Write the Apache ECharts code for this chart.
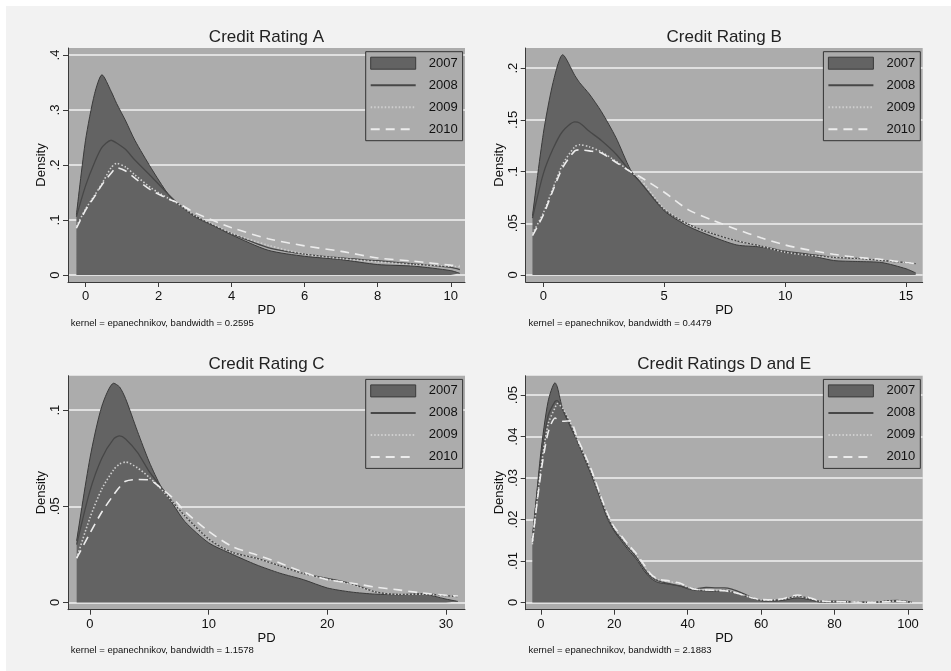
<!DOCTYPE html>
<html>
<head>
<meta charset="utf-8">
<script src="https://cdn.jsdelivr.net/npm/echarts@6/dist/echarts.min.js"></script>
<style>
html, body { margin: 0; padding: 0; background: #ffffff; }
#bg { position: absolute; left: 6px; top: 6px; right: 0; bottom: 0; width: 945px; height: 665px; background: #f2f2f2; }
#chart { position: absolute; left: 0; top: 0; width: 951px; height: 671px; }
</style>
</head>
<body>
<div id="bg"></div>
<div id="chart"></div>
<script>
// years shown in every panel
const years = ['2007', '2008', '2009', '2010'];

// Credit Rating A
const pdA = [-0.25, 0, 0.25, 0.45, 0.7, 0.85, 1.1, 1.35, 1.8, 2.25, 2.5, 3, 3.5, 4, 5, 6, 7, 8, 9, 10, 10.25];
const a2007 = [0.109, 0.245, 0.33, 0.364, 0.334, 0.312, 0.28, 0.245, 0.194, 0.148, 0.13, 0.108, 0.09, 0.073, 0.045, 0.034, 0.028, 0.019, 0.016, 0.008, 0.003];
const a2008 = [0.106, 0.162, 0.205, 0.232, 0.245, 0.24, 0.228, 0.209, 0.179, 0.148, 0.132, 0.106, 0.09, 0.075, 0.05, 0.038, 0.031, 0.026, 0.02, 0.014, 0.01];
const a2009 = [0.088, 0.12, 0.145, 0.166, 0.195, 0.203, 0.196, 0.182, 0.158, 0.14, 0.131, 0.108, 0.092, 0.076, 0.054, 0.038, 0.03, 0.024, 0.019, 0.016, 0.015];
const a2010 = [0.085, 0.118, 0.143, 0.164, 0.185, 0.195, 0.189, 0.176, 0.154, 0.139, 0.132, 0.113, 0.099, 0.086, 0.066, 0.053, 0.043, 0.031, 0.025, 0.018, 0.017];

// Credit Rating B
const pdB = [-0.45, 0, 0.4, 0.8, 1.3, 1.5, 1.9, 2.4, 3, 3.6, 4, 5, 6, 7, 8, 9, 10, 11, 12, 13, 14, 15, 15.4];
const b2007 = [0.057, 0.137, 0.186, 0.213, 0.193, 0.186, 0.175, 0.158, 0.133, 0.102, 0.09, 0.062, 0.047, 0.037, 0.029, 0.027, 0.022, 0.019, 0.014, 0.013, 0.012, 0.006, 0.002];
const b2008 = [0.055, 0.098, 0.122, 0.139, 0.148, 0.147, 0.139, 0.13, 0.117, 0.1, 0.09, 0.063, 0.049, 0.04, 0.033, 0.028, 0.023, 0.02, 0.017, 0.016, 0.014, 0.012, 0.011];
const b2009 = [0.04, 0.06, 0.084, 0.107, 0.124, 0.126, 0.124, 0.119, 0.11, 0.1, 0.093, 0.064, 0.049, 0.04, 0.033, 0.028, 0.022, 0.019, 0.017, 0.016, 0.014, 0.012, 0.011];
const b2010 = [0.038, 0.058, 0.082, 0.104, 0.12, 0.121, 0.12, 0.118, 0.109, 0.1, 0.095, 0.08, 0.063, 0.053, 0.044, 0.036, 0.029, 0.024, 0.02, 0.017, 0.015, 0.012, 0.011];

// Credit Rating C
const pdC = [-1.12, 0, 1, 2, 2.5, 3, 4, 5, 6, 7, 8, 10, 12, 14, 16, 18, 20, 22, 24, 26, 28, 30, 31];
const c2007 = [0.032, 0.075, 0.102, 0.114, 0.112, 0.106, 0.089, 0.073, 0.06, 0.051, 0.042, 0.031, 0.025, 0.0196, 0.0152, 0.0118, 0.0075, 0.0054, 0.0043, 0.004, 0.0043, 0.0017, 0.0005];
const c2008 = [0.03, 0.058, 0.075, 0.085, 0.0866, 0.085, 0.078, 0.068, 0.06, 0.052, 0.045, 0.033, 0.026, 0.023, 0.019, 0.015, 0.0125, 0.0098, 0.0055, 0.0042, 0.0045, 0.0035, 0.003];
const c2009 = [0.023, 0.044, 0.059, 0.069, 0.072, 0.073, 0.07, 0.065, 0.059, 0.052, 0.045, 0.033, 0.026, 0.023, 0.019, 0.015, 0.012, 0.0095, 0.0055, 0.0042, 0.0043, 0.0035, 0.003];
const c2010 = [0.023, 0.036, 0.047, 0.056, 0.06, 0.063, 0.0639, 0.0637, 0.0594, 0.0542, 0.0473, 0.037, 0.029, 0.0248, 0.0205, 0.0157, 0.0118, 0.0101, 0.008, 0.0065, 0.0049, 0.0037, 0.0033];

// Credit Ratings D and E
const pdD = [-2.3, 0, 2, 3.9, 4.5, 6, 8, 10, 12, 14, 16, 18, 20, 22, 24, 26, 28, 30, 32, 35, 38, 40, 42, 45, 48, 50, 52, 55, 58, 60, 63, 66, 70, 73, 76, 80, 85, 90, 95, 97, 100, 101];
const d2007 = [0.0147, 0.036, 0.0485, 0.053, 0.052, 0.0465, 0.0425, 0.0387, 0.0345, 0.0302, 0.0255, 0.0205, 0.0172, 0.0148, 0.0125, 0.0105, 0.0078, 0.0058, 0.0048, 0.0044, 0.0039, 0.0033, 0.0029, 0.0028, 0.0027, 0.003, 0.0026, 0.0017, 0.0009, 0.0004, 0.0003, 0.0005, 0.0011, 0.0007, 0.0001, 0.0001, 0.0001, 0, 0.0003, 0.0003, 0.0001, 0];
const d2008 = [0.0155, 0.034, 0.045, 0.0485, 0.0487, 0.0465, 0.043, 0.039, 0.035, 0.0305, 0.026, 0.021, 0.0175, 0.0152, 0.013, 0.011, 0.0083, 0.0062, 0.0052, 0.0045, 0.004, 0.0035, 0.0033, 0.0036, 0.0035, 0.0035, 0.0032, 0.0022, 0.001, 0.0005, 0.0005, 0.0007, 0.0015, 0.001, 0.0003, 0.0003, 0.0002, 0, 0.0004, 0.0005, 0.0002, 0.0001];
const d2009 = [0.014, 0.032, 0.043, 0.047, 0.048, 0.0468, 0.0435, 0.0392, 0.0352, 0.031, 0.0262, 0.0215, 0.018, 0.0157, 0.0135, 0.0115, 0.009, 0.0066, 0.0055, 0.005, 0.0045, 0.0037, 0.0032, 0.003, 0.0029, 0.0029, 0.0026, 0.0018, 0.001, 0.0006, 0.0006, 0.0008, 0.0015, 0.001, 0.0003, 0.0002, 0.0001, 0, 0.0003, 0.0003, 0.0001, 0];
const d2010 = [0.0145, 0.031, 0.041, 0.0445, 0.0442, 0.0437, 0.0438, 0.0395, 0.0357, 0.0315, 0.0265, 0.0218, 0.0182, 0.016, 0.0138, 0.0118, 0.0093, 0.0068, 0.0056, 0.0052, 0.0046, 0.0038, 0.0032, 0.003, 0.0029, 0.0028, 0.0025, 0.0018, 0.001, 0.0007, 0.0006, 0.0009, 0.0018, 0.0012, 0.0004, 0.0002, 0.0001, 0, 0.0002, 0.0003, 0.0001, 0];

// tick values
const xTicksA = [0, 2, 4, 6, 8, 10];
const yTicksA = [0, 0.1, 0.2, 0.3, 0.4];
const xTicksB = [0, 5, 10, 15];
const yTicksB = [0, 0.05, 0.1, 0.15, 0.2];
const xTicksC = [0, 10, 20, 30];
const yTicksC = [0, 0.05, 0.1];
const xTicksD = [0, 20, 40, 60, 80, 100];
const yTicksD = [0, 0.01, 0.02, 0.03, 0.04, 0.05];

const titles = ['Credit Rating A', 'Credit Rating B', 'Credit Rating C', 'Credit Ratings D and E'];
const notes = [
    'kernel = epanechnikov, bandwidth = 0.2595',
    'kernel = epanechnikov, bandwidth = 0.4479',
    'kernel = epanechnikov, bandwidth = 1.1578',
    'kernel = epanechnikov, bandwidth = 2.1883'
];

const FONT = '"Liberation Sans", Arial, sans-serif';
const PLOT_BG = '#acacac';
const FILL = '#636363';
const AXIS = '#3a3a3a';

const panels = [
    { pd: pdA, ys: [a2007, a2008, a2009, a2010], xt: xTicksA, yt: yTicksA, xr: [-0.48, 10.39], yr: [-0.0127, 0.4127], left: 68, top: 48 },
    { pd: pdB, ys: [b2007, b2008, b2009, b2010], xt: xTicksB, yt: yTicksB, xr: [-0.73, 15.69], yr: [-0.0068, 0.2195], left: 525.7, top: 48 },
    { pd: pdC, ys: [c2007, c2008, c2009, c2010], xt: xTicksC, yt: yTicksC, xr: [-1.85, 31.6], yr: [-0.0038, 0.1179], left: 68, top: 375.7 },
    { pd: pdD, ys: [d2007, d2008, d2009, d2010], xt: xTicksD, yt: yTicksD, xr: [-4.1, 104], yr: [-0.00176, 0.0547], left: 525.7, top: 375.7 }
];
const PW = 397, PH = 234;

const lineStyles = [
    { color: AXIS, width: 1 },
    { color: '#474747', width: 1.3 },
    { color: '#cfcfcf', width: 1.6, type: [1.5, 2] },
    { color: '#ececec', width: 1.6, type: [9, 6] }
];

function yFmt(v) {
    return String(+v.toFixed(4)).replace(/^0\./, '.');
}

const grid = [], xAxis = [], yAxis = [], series = [], legend = [], graphic = [];

panels.forEach(function (p, i) {
    grid.push({ left: p.left, top: p.top, width: PW, height: PH, show: true, backgroundColor: PLOT_BG, borderWidth: 0 });
    xAxis.push({
        type: 'value', gridIndex: i, min: p.xr[0], max: p.xr[1],
        name: 'PD', nameLocation: 'middle', nameGap: 20,
        nameTextStyle: { fontFamily: FONT, fontSize: 13, color: '#111' },
        axisLine: { show: true, onZero: false, lineStyle: { color: AXIS, width: 1 } },
        axisTick: { show: true, length: 5, customValues: p.xt, lineStyle: { color: AXIS } },
        axisLabel: { customValues: p.xt, margin: 8, fontFamily: FONT, fontSize: 13, color: '#111' },
        splitLine: { show: false }
    });
    yAxis.push({
        type: 'value', gridIndex: i, min: p.yr[0], max: p.yr[1],
        name: 'Density', nameLocation: 'middle', nameGap: 17, nameRotate: 90,
        nameTextStyle: { fontFamily: FONT, fontSize: 13, color: '#111' },
        axisLine: { show: true, onZero: false, lineStyle: { color: AXIS, width: 1 } },
        axisTick: { show: true, length: 5, customValues: p.yt, lineStyle: { color: AXIS } },
        axisLabel: { customValues: p.yt, rotate: 90, margin: 6, fontFamily: FONT, fontSize: 13, color: '#111', formatter: yFmt },
        splitLine: { show: true, lineStyle: { color: '#f2f2f2', width: 1.5 } }
    });
    p.ys.forEach(function (vals, k) {
        const s = {
            name: years[k], type: 'line', xAxisIndex: i, yAxisIndex: i,
            data: p.pd.map(function (x, j) { return [x, vals[j]]; }),
            showSymbol: false, symbol: 'none', smooth: 0.25, silent: true,
            lineStyle: lineStyles[k], z: 2 + k
        };
        if (k === 0) s.areaStyle = { color: FILL, opacity: 1 };
        series.push(s);
    });
    legend.push({
        orient: 'vertical', left: p.left + PW - 99.3, top: p.top + 3.7,
        itemWidth: 45, itemHeight: 12, itemGap: 9, padding: [5, 5, 5, 4],
        backgroundColor: PLOT_BG, borderColor: '#333', borderWidth: 1, borderRadius: 0,
        selectedMode: false,
        textStyle: { fontFamily: FONT, fontSize: 13, color: '#111', padding: [0, 0, 0, 8] },
        data: [
            { name: '2007', icon: 'rect', itemStyle: { color: FILL, borderColor: AXIS, borderWidth: 1 } },
            { name: '2008', itemStyle: { opacity: 0 } },
            { name: '2009', itemStyle: { opacity: 0 } },
            { name: '2010', itemStyle: { opacity: 0 } }
        ]
    });
    graphic.push({
        type: 'text', x: p.left + PW / 2, y: p.top - 11,
        style: { text: titles[i], fontFamily: FONT, fontSize: 17, fill: '#222', align: 'center', verticalAlign: 'middle' }
    });
    graphic.push({
        type: 'text', x: p.left + 2.7, y: p.top + 275,
        style: { text: notes[i], fontFamily: FONT, fontSize: 9.5, fill: '#111', align: 'left', verticalAlign: 'middle' }
    });
});

const myChart = echarts.init(document.getElementById('chart'));
myChart.setOption({
    backgroundColor: 'transparent',
    animation: false,
    grid: grid,
    xAxis: xAxis,
    yAxis: yAxis,
    legend: legend,
    graphic: graphic,
    series: series
});
</script>
</body>
</html>
